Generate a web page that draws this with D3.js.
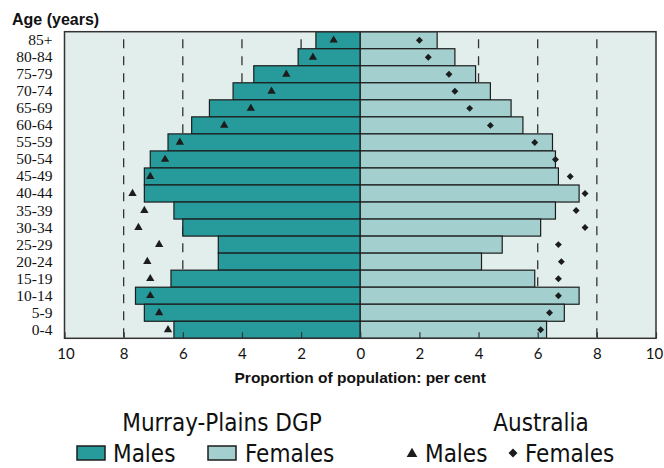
<!DOCTYPE html>
<html>
<head>
<meta charset="utf-8">
<script src="https://cdn.jsdelivr.net/npm/d3@7"></script>
<style>
  body { margin: 0; background: #fff; }
  svg { display: block; }
</style>
</head>
<body>
<div id="chart"></div>
<script>
// DATA ___________________________________________________________
const AGE_GROUPS = ['85+', '80-84', '75-79', '70-74', '65-69', '60-64', '55-59', '50-54', '45-49',
                    '40-44', '35-39', '30-34', '25-29', '20-24', '15-19', '10-14', '5-9', '0-4'];
// Murray-Plains DGP (per cent)
const DGP_MALES   = [1.5, 2.1, 3.6, 4.3, 5.1, 5.7, 6.5, 7.1, 7.3, 7.3, 6.3, 6.0, 4.8, 4.8, 6.4, 7.6, 7.3, 6.3];
const DGP_FEMALES = [2.6, 3.2, 3.9, 4.4, 5.1, 5.5, 6.5, 6.6, 6.7, 7.4, 6.6, 6.1, 4.8, 4.1, 5.9, 7.4, 6.9, 6.3];
// Australia (per cent)
const AUS_MALES   = [0.9, 1.6, 2.5, 3.0, 3.7, 4.6, 6.1, 6.6, 7.1, 7.7, 7.3, 7.5, 6.8, 7.2, 7.1, 7.1, 6.8, 6.5];
const AUS_FEMALES = [2.0, 2.3, 3.0, 3.2, 3.7, 4.4, 5.9, 6.6, 7.1, 7.6, 7.3, 7.6, 6.7, 6.8, 6.7, 6.7, 6.4, 6.1];
const X_TICKS = [-10, -8, -6, -4, -2, 0, 2, 4, 6, 8, 10];
const GRID_VALUES = [-8, -6, -4, -2, 2, 4, 6, 8];
//________________________________________________________________________________________

const W = 664, H = 468;
const PLOT = {left: 64.5, right: 656, top: 31.7, bottom: 338.3};
const COLOR_MALE = '#279b9b';
const COLOR_FEMALE = '#a3cfcf';
const COLOR_BG = '#e2eeec';
const INK = '#1c1c1c';
const SERIF = '"Liberation Serif", "DejaVu Serif", "Times New Roman", serif';

const svg = d3.select('#chart').append('svg')
    .attr('width', W).attr('height', H);

const x = d3.scaleLinear().domain([-10, 10]).range([PLOT.left, PLOT.right]);
const y = d3.scaleBand().domain(AGE_GROUPS).range([PLOT.top, PLOT.bottom]).padding(0);

// Plot background
svg.append('rect')
    .attr('x', PLOT.left).attr('y', PLOT.top)
    .attr('width', PLOT.right - PLOT.left).attr('height', PLOT.bottom - PLOT.top)
    .attr('fill', COLOR_BG);

// Dashed grid lines
svg.append('g').selectAll('line')
    .data(GRID_VALUES)
    .enter().append('line')
    .attr('x1', d => x(d)).attr('x2', d => x(d))
    .attr('y1', PLOT.top).attr('y2', PLOT.bottom)
    .attr('stroke', '#333')
    .attr('stroke-width', 1.3)
    .attr('stroke-dasharray', '9,8')
    .attr('stroke-dashoffset', 9.4);

// Bars
const rows = AGE_GROUPS.map((age, i) => ({age, m: DGP_MALES[i], f: DGP_FEMALES[i], am: AUS_MALES[i], af: AUS_FEMALES[i]}));

svg.append('g').selectAll('rect')
    .data(rows)
    .enter().append('rect')
    .attr('x', d => x(-d.m))
    .attr('y', d => y(d.age))
    .attr('width', d => x(0) - x(-d.m))
    .attr('height', y.bandwidth())
    .attr('fill', COLOR_MALE)
    .attr('stroke', INK)
    .attr('stroke-width', 1.2);

svg.append('g').selectAll('rect')
    .data(rows)
    .enter().append('rect')
    .attr('x', x(0))
    .attr('y', d => y(d.age))
    .attr('width', d => x(d.f) - x(0))
    .attr('height', y.bandwidth())
    .attr('fill', COLOR_FEMALE)
    .attr('stroke', INK)
    .attr('stroke-width', 1.2);

// Australia markers
svg.append('g').selectAll('path')
    .data(rows)
    .enter().append('path')
    .attr('transform', d => `translate(${x(-d.am)},${y(d.age) + y.bandwidth() / 2})`)
    .attr('d', d3.symbol().type(d3.symbolTriangle).size(30))
    .attr('fill', INK);

svg.append('g').selectAll('path')
    .data(rows)
    .enter().append('path')
    .attr('transform', d => `translate(${x(d.af)},${y(d.age) + y.bandwidth() / 2}) rotate(45)`)
    .attr('d', d3.symbol().type(d3.symbolSquare).size(24))
    .attr('fill', INK);

// Plot frame
svg.append('rect')
    .attr('x', PLOT.left).attr('y', PLOT.top)
    .attr('width', PLOT.right - PLOT.left).attr('height', PLOT.bottom - PLOT.top)
    .attr('fill', 'none')
    .attr('stroke', '#333')
    .attr('stroke-width', 1.5);

// X axis (inward ticks, absolute labels)
const xAxis = svg.append('g')
    .attr('transform', `translate(0,${PLOT.bottom})`)
    .call(d3.axisBottom(x).tickValues(X_TICKS).tickSize(-6).tickPadding(10)
        .tickFormat(d => Math.abs(d)));
xAxis.select('.domain').remove();
xAxis.selectAll('.tick line').attr('stroke', '#333').attr('stroke-width', 1.2);
xAxis.selectAll('text')
    .attr('fill', '#111')
    .attr('dx', d => d === 10 ? -2 : (d === -10 ? 1 : 0))
    .style('font-family', 'Lato, "Open Sans", sans-serif')
    .style('font-size', '15px');

// Y axis labels
const yAxis = svg.append('g')
    .attr('transform', `translate(${PLOT.left},0)`)
    .call(d3.axisLeft(y).tickSize(0).tickPadding(12));
yAxis.select('.domain').remove();
yAxis.selectAll('text')
    .attr('fill', '#111')
    .style('font-family', SERIF)
    .style('font-size', '15.5px');

// Axis titles
svg.append('text')
    .attr('x', 12).attr('y', 25)
    .attr('fill', '#111')
    .style('font-family', '"Liberation Sans", sans-serif')
    .style('font-weight', 'bold')
    .style('font-size', '16px')
    .text('Age (years)');

svg.append('text')
    .attr('x', x(0)).attr('y', 383)
    .attr('text-anchor', 'middle')
    .attr('fill', '#111')
    .style('font-family', '"Liberation Sans", sans-serif')
    .style('font-weight', 'bold')
    .style('font-size', '15.5px')
    .text('Proportion of population: per cent');

// Legend
const LEG_FONT = '"Liberation Sans Narrow", "DejaVu Sans Condensed", sans-serif';
const legend = svg.append('g').style('font-family', LEG_FONT).style('font-size', '24px').attr('fill', '#111');

legend.append('text').attr('x', 222).attr('y', 431).attr('text-anchor', 'middle').text('Murray-Plains DGP');
legend.append('text').attr('x', 541).attr('y', 431).attr('text-anchor', 'middle').text('Australia');

legend.append('rect').attr('x', 77).attr('y', 446).attr('width', 28).attr('height', 14)
    .attr('fill', COLOR_MALE).attr('stroke', INK).attr('stroke-width', 1.5);
legend.append('text').attr('x', 113).attr('y', 462).text('Males');
legend.append('rect').attr('x', 208).attr('y', 446).attr('width', 28).attr('height', 14)
    .attr('fill', COLOR_FEMALE).attr('stroke', INK).attr('stroke-width', 1.5);
legend.append('text').attr('x', 245).attr('y', 462).text('Females');

legend.append('path')
    .attr('transform', 'translate(412,454)')
    .attr('d', d3.symbol().type(d3.symbolTriangle).size(50))
    .attr('fill', INK);
legend.append('text').attr('x', 425).attr('y', 462).text('Males');
legend.append('path')
    .attr('transform', 'translate(513,453) rotate(45)')
    .attr('d', d3.symbol().type(d3.symbolSquare).size(40))
    .attr('fill', INK);
legend.append('text').attr('x', 525).attr('y', 462).text('Females');
</script>
</body>
</html>
